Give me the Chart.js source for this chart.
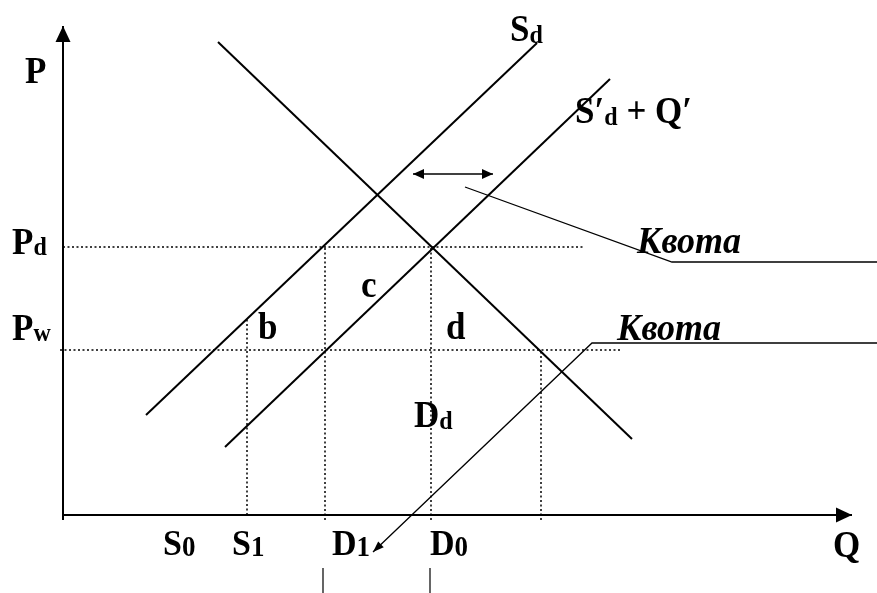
<!DOCTYPE html>
<html>
<head>
<meta charset="utf-8">
<script src="https://cdn.jsdelivr.net/npm/chart.js@4.4.1/dist/chart.umd.min.js"></script>
<style>
  html, body { margin: 0; padding: 0; background: #fff; }
  #wrap { width: 877px; height: 593px; }
</style>
</head>
<body>
<div id="wrap"><canvas id="chart"></canvas></div>
<script>
// diagram units: Q to the right, P upward, origin where the axes meet
const demandDd = [[155, 473], [569, 76]];
const supplySd = [[83, 100], [474, 472]];
const supplyShifted = [[162, 68], [547, 436]];   // S'd + Q'
const priceLevels = [268, 165];                   // Pd, Pw
const priceGuideStart = [0, -3];
const priceGuideEnd = [520, 557];
const quantityMarks = [184, 262, 368, 478];       // S1, D1, D0, end of imports
const quantityMarkTop = [197, 268, 268, 165];
const quantityMarkBottom = [0, -5, -5, -5];
const quotaGap = [[350, 341], [430, 341]];
const quotaLeaderTop = [[402, 328], [609, 253], [814, 253]];
const quotaLeaderLow = [[310, -37], [529, 172], [814, 172]];
const belowTicks = [260, 367];
const axisQ = [[0, 0], [789, 0]];
const axisP = [[0, -5], [0, 489]];

// text
const priceTickLabels = [['P', 'd'], ['P', 'w']];
const quantityTickLabels = [['S', '0'], ['S', '1'], ['D', '1'], ['D', '0']];
const axisTitles = ['P', 'Q'];
const curveLabels = [['S', 'd', ''], ['S\u2032', 'd', ' + Q\u2032'], ['D', 'd', '']];
const areaLabels = ['b', 'c', 'd'];
const quotaLabel = 'Квота';

const pts = arr => arr.map(([x, y]) => ({ x, y }));

const solid = (data, w) => ({
  data: pts(data), showLine: true, borderColor: '#000', borderWidth: w,
  pointRadius: 0, fill: false, tension: 0
});
const dotted = (data) => ({
  data: pts(data), showLine: true, borderColor: '#000', borderWidth: 1.5,
  borderDash: [2, 2.5], pointRadius: 0, fill: false, tension: 0
});

const datasets = [
  solid(axisQ, 2), solid(axisP, 2),
  solid(demandDd, 2), solid(supplySd, 2), solid(supplyShifted, 2),
  solid(quotaGap, 1.5), solid(quotaLeaderTop, 1.3), solid(quotaLeaderLow, 1.3)
];
priceLevels.forEach((p, i) => datasets.push(dotted([[priceGuideStart[i], p], [priceGuideEnd[i], p]])));
quantityMarks.forEach((q, i) => datasets.push(dotted([[q, quantityMarkBottom[i]], [q, quantityMarkTop[i]]])));
belowTicks.forEach(q => datasets.push(solid([[q, -53], [q, -80]], 1.2)));

function arrowHead(ctx, fx, fy, tx, ty, len, half) {
  const a = Math.atan2(ty - fy, tx - fx);
  ctx.beginPath();
  ctx.moveTo(tx, ty);
  ctx.lineTo(tx - len * Math.cos(a) + half * Math.sin(a), ty - len * Math.sin(a) - half * Math.cos(a));
  ctx.lineTo(tx - len * Math.cos(a) - half * Math.sin(a), ty - len * Math.sin(a) + half * Math.cos(a));
  ctx.closePath();
  ctx.fill();
}

const SERIF = '"Liberation Serif", "Times New Roman", serif';
const STRETCH = 1.08; // the source font is a bit taller than Liberation Serif

function drawLabel(ctx, x, y, main, sub, tail, size, subSize, subDrop, style) {
  const st = style ? style + ' ' : '';
  ctx.save();
  ctx.translate(x, y);
  ctx.scale(1, STRETCH);
  ctx.font = st + 'bold ' + size + 'px ' + SERIF;
  ctx.fillText(main, 0, 0);
  let cx = ctx.measureText(main).width;
  if (sub) {
    ctx.font = 'bold ' + subSize + 'px ' + SERIF;
    ctx.fillText(sub, cx, subDrop);
    cx += ctx.measureText(sub).width;
  }
  if (tail) {
    ctx.font = 'bold ' + size + 'px ' + SERIF;
    ctx.fillText(tail, cx, 0);
  }
  ctx.restore();
}

const diagramPlugin = {
  id: 'diagram',
  afterDatasetsDraw(chart) {
    const { ctx, scales: { x, y } } = chart;
    const X = v => x.getPixelForValue(v);
    const Y = v => y.getPixelForValue(v);
    ctx.save();
    ctx.fillStyle = '#000';
    ctx.textBaseline = 'alphabetic';
    ctx.textAlign = 'left';

    // axis arrows
    arrowHead(ctx, X(axisP[0][0]), Y(axisP[0][1]), X(axisP[1][0]), Y(axisP[1][1]), 16, 7.5);
    arrowHead(ctx, X(axisQ[0][0]), Y(axisQ[0][1]), X(axisQ[1][0]), Y(axisQ[1][1]), 16, 7.5);
    // quota double arrow
    const [g0, g1] = quotaGap;
    arrowHead(ctx, X(g1[0]), Y(g1[1]), X(g0[0]), Y(g0[1]), 11, 5);
    arrowHead(ctx, X(g0[0]), Y(g0[1]), X(g1[0]), Y(g1[1]), 11, 5);
    // leader arrow to D1
    const l0 = quotaLeaderLow[0], l1 = quotaLeaderLow[1];
    arrowHead(ctx, X(l1[0]), Y(l1[1]), X(l0[0]), Y(l0[1]), 11, 4);

    // axis titles
    drawLabel(ctx, X(-38), Y(432), axisTitles[0], '', '', 35, 24, 2);
    drawLabel(ctx, X(770), Y(-42), axisTitles[1], '', '', 35, 24, 2);

    // price labels
    const priceLabelY = [261, 175];
    priceTickLabels.forEach(([m, s], i) => drawLabel(ctx, X(-51), Y(priceLabelY[i]), m, s, '', 35, 24, 1));

    // quantity labels
    const qLabelX = [100, 169, 269, 367];
    quantityTickLabels.forEach(([m, s], i) => drawLabel(ctx, X(qLabelX[i]), Y(-40), m, s, '', 34, 27, 1));

    // curve labels
    const curvePos = [[447, 474], [512, 392], [351, 88]];
    curveLabels.forEach(([m, s, t], i) => drawLabel(ctx, X(curvePos[i][0]), Y(curvePos[i][1]), m, s, t, 35, 24, 2));

    // area labels
    const areaPos = [[195, 176], [298, 218], [383, 176]];
    areaLabels.forEach((t, i) => drawLabel(ctx, X(areaPos[i][0]), Y(areaPos[i][1]), t, '', '', 35, 24, 2));

    // quota captions
    drawLabel(ctx, X(574), Y(262), quotaLabel, '', '', 36, 24, 0, 'italic');
    drawLabel(ctx, X(554), Y(175), quotaLabel, '', '', 36, 24, 0, 'italic');

    ctx.restore();
  }
};

new Chart(document.getElementById('chart'), {
  type: 'scatter',
  data: { datasets },
  options: {
    responsive: true,
    maintainAspectRatio: false,
    animation: false,
    layout: { padding: 0 },
    plugins: { legend: { display: false }, tooltip: { enabled: false } },
    scales: {
      x: { type: 'linear', min: -63, max: 814, display: false },
      y: { type: 'linear', min: -78, max: 515, display: false }
    }
  },
  plugins: [diagramPlugin]
});
</script>
</body>
</html>
